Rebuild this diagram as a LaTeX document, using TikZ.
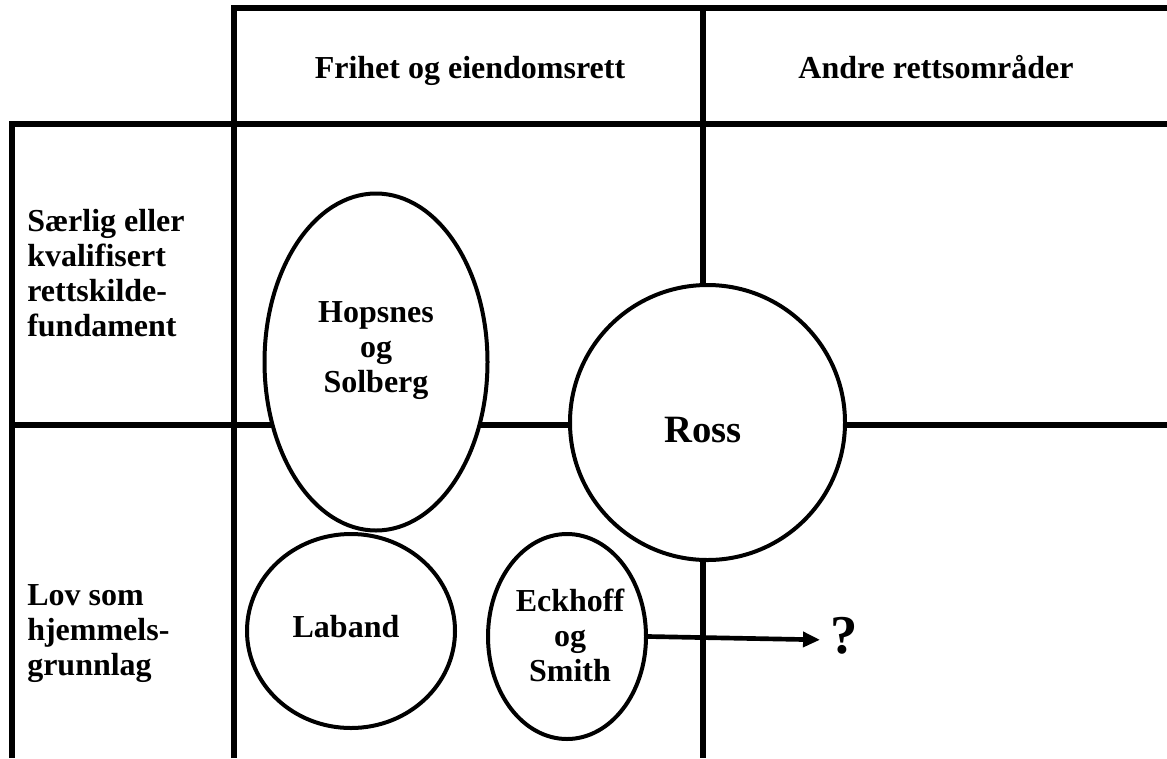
\documentclass[tikz,border=0pt]{standalone}
\usepackage{fontspec}
\setmainfont{Liberation Serif}
\usetikzlibrary{shapes.geometric,arrows.meta}

\begin{document}
\begin{tikzpicture}[x=0.75pt,y=-0.75pt,
  grid/.style={line width=4.5pt},
  blob/.style={ellipse,draw,line width=3pt,fill=white,inner sep=0pt},
  roundblob/.style={circle,draw,line width=3pt,fill=white,inner sep=0pt},
  lbl/.style={font=\fontsize{24}{26.25}\bfseries\selectfont,align=center,inner sep=0pt},
  rowlbl/.style={lbl,align=left,anchor=west},
  arrowline/.style={line width=3.5pt,-{Triangle[length=12.75pt,width=11pt]}},
]
\useasboundingbox (0,0) rectangle (1167,758);

% table rules
\draw[grid] (234,758) -- (234,8) -- (1167,8);
\draw[grid] (703,8) -- (703,758);
\draw[grid] (12,758) -- (12,124) -- (1167,124);
\draw[grid] (12,425) -- (1167,425);

% column headers
\node[lbl,anchor=base] (colA) at (470,78) {Frihet og eiendomsrett};
\node[lbl,anchor=base] (colB) at (936,78) {Andre rettsområder};

% row headers
\node[rowlbl] (rowA) at (27,273) {Særlig eller\\kvalifisert\\rettskilde-\\fundament};
\node[rowlbl] (rowB) at (27,634) {Lov som\\hjemmels-\\grunnlag};

% positions
\node[blob,minimum width=167.25pt,minimum height=252.75pt] (hop) at (376,362) {};
\node[roundblob,minimum size=206.25pt] (ross) at (707.5,422.5) {};
\node[blob,minimum width=156pt,minimum height=145.5pt] (lab) at (351,631) {};
\node[blob,minimum width=118.5pt,minimum height=153.75pt] (eck) at (567,636.5) {};

\node[lbl] (hopT) at (376,351) {Hopsnes\\og\\Solberg};
\node[lbl,font=\fontsize{29}{32}\bfseries\selectfont] (rossT) at (703,430.5) {Ross};
\node[lbl] (labT) at (346,627) {Laband};
\node[lbl] (eckT) at (570,635) {Eckhoff\\og\\Smith};

% open question
\node[lbl,font=\fontsize{41}{44}\bfseries\selectfont] (q) at (844,636) {?};
\draw[arrowline,shorten >=7.5pt] (eck.east) -- ([yshift=-3pt]q.west);
\end{tikzpicture}
\end{document}
